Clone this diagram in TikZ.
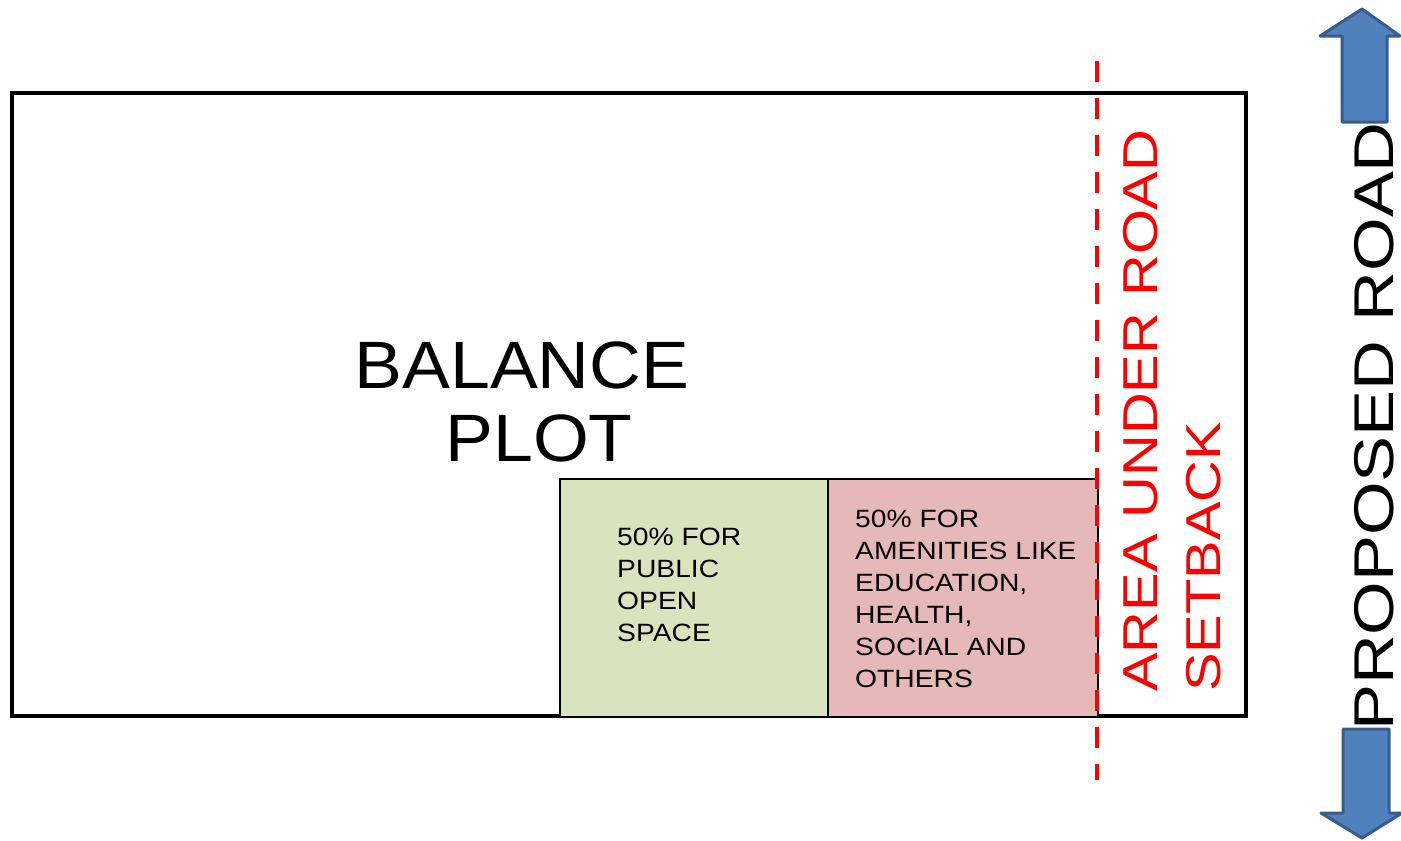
\documentclass[tikz,border=0pt]{standalone}
\usepackage{fontspec}
\newfontfamily\bigf[FakeStretch=1.07]{Liberation Sans}
\newfontfamily\smf[FakeStretch=1.13]{Liberation Sans}
\newfontfamily\rotf[FakeStretch=1.18]{Liberation Sans}
\newfontfamily\roadf[FakeStretch=1.23]{Liberation Sans}
\definecolor{greenfill}{HTML}{D7E4BD}
\definecolor{pinkfill}{HTML}{E6B9B8}
\definecolor{arrowfill}{HTML}{4F81BD}
\definecolor{arrowedge}{HTML}{385D8A}
\tikzset{
  plotline/.style={draw=black, line width=4pt, line join=miter},
  subbox/.style={draw=black, line width=2pt},
  setbackline/.style={draw=red, line width=4.5pt, dash pattern=on 21pt off 16pt},
  bigtext/.style={inner sep=0pt, anchor=base, font=\fontsize{67}{73}\selectfont\bigf},
  smalltext/.style={inner sep=0pt, anchor=north west, align=left, font=\fontsize{25}{32}\selectfont\smf},
  rottext/.style={inner sep=0pt, anchor=base west, rotate=90},
  roadarrow/.style={fill=arrowfill, draw=arrowedge, line width=3pt, line join=round}
}
\begin{document}
\begin{tikzpicture}[x=1pt,y=-1pt]
\useasboundingbox (0,0) rectangle (1401,841);
% main plot
\draw[plotline] (12,93) rectangle (1246,716);
% sub boxes
\draw[subbox, fill=greenfill] (560,479) rectangle (828,717);
\draw[subbox, fill=pinkfill] (828,479) rectangle (1098,717);
% texts
\node[bigtext] (bal1) at (522,388) {BALANCE};
\node[bigtext] (bal2) at (539,461) {PLOT};
\node[smalltext] (gtext) at (617,528) {50\% FOR\\PUBLIC\\OPEN\\SPACE};
\node[smalltext] (ptext) at (855,510) {50\% FOR\\AMENITIES LIKE\\EDUCATION,\\HEALTH,\\SOCIAL AND\\OTHERS};
% setback line
\draw[setbackline] (1097,61) -- (1097,780);
\node[rottext, text=red, font=\fontsize{49}{49}\selectfont\rotf] (area) at (1157,692) {AREA UNDER ROAD};
\node[rottext, text=red, font=\fontsize{49}{49}\selectfont\rotf] (setback) at (1220,692) {SETBACK};
% proposed road
\node[rottext, text=black, font=\fontsize{56}{56}\selectfont\roadf] (road) at (1393,731) {PROPOSED ROAD};
\draw[roadarrow] (1342,122) -- (1342,36) -- (1320,36) -- (1362,9) -- (1400,36) -- (1387,36) -- (1387,122) -- cycle;
\draw[roadarrow] (1343,729) -- (1343,813) -- (1321,813) -- (1362,838) -- (1402,813) -- (1389,813) -- (1389,729) -- cycle;
\end{tikzpicture}
\end{document}
